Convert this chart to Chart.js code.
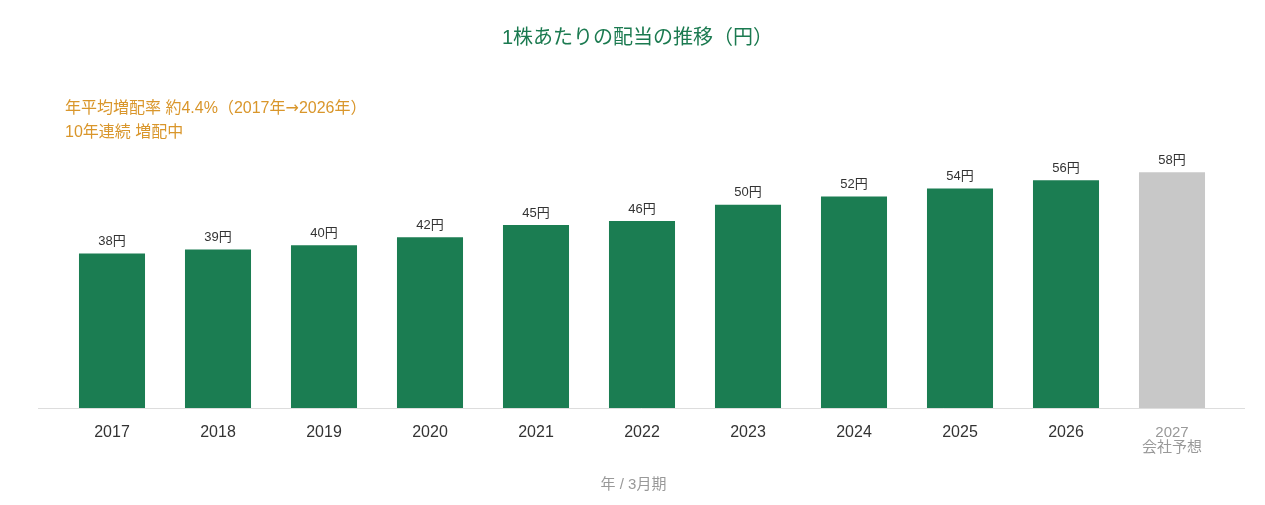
<!DOCTYPE html>
<html>
<head>
<meta charset="utf-8">
<script src="https://cdn.jsdelivr.net/npm/chart.js@4.4.1/dist/chart.umd.min.js"></script>
<style>
  html, body { margin: 0; padding: 0; background: #fff; }
  #wrap { width: 1265px; height: 505px; }
</style>
</head>
<body>
<div id="wrap"><canvas id="myChart"></canvas></div>
<script>
var years = ['2017', '2018', '2019', '2020', '2021', '2022', '2023', '2024', '2025', '2026', ['2027', '会社予想']]
var dividends = [38, 39, 40, 42, 45, 46, 50, 52, 54, 56, 58]
var forecastIndex = 10
var chartTitle = '1株あたりの配当の推移（円）'
var axisTitle = '年 / 3月期'
var notes = ['年平均増配率 約4.4%（2017年→2026年）', '10年連続 増配中']

var FONT = '"Liberation Sans", "Noto Sans CJK JP", sans-serif'
var ARROW = '"DejaVu Sans", sans-serif'
var green = '#1b7d52'
var grey = '#c8c8c8'

// draws text run by run so the arrow gets a wider glyph
function drawMixed(ctx, text, x, y, size) {
    var parts = text.split(/(→)/)
    parts.forEach(p => {
        if (!p) return
        ctx.font = size + 'px ' + (p === '→' ? ARROW : FONT)
        ctx.fillText(p, x, y)
        x += ctx.measureText(p).width
    })
}

const extras = {
    id: 'extras',
    afterDatasetsDraw(chart) {
        const ctx = chart.ctx
        const area = chart.chartArea
        const meta = chart.getDatasetMeta(0)
        ctx.save()
        ctx.textBaseline = 'middle'

        // title
        ctx.font = '20px ' + FONT
        ctx.fillStyle = '#1b7a50'
        ctx.textAlign = 'center'
        ctx.fillText(chartTitle, 637.5, 38)

        // value labels
        ctx.font = '13px ' + FONT
        ctx.fillStyle = '#333'
        meta.data.forEach((bar, i) => {
            ctx.fillText(dividends[i] + '円', bar.x, bar.y - 12)
        })

        // axis title
        ctx.font = '15px ' + FONT
        ctx.fillStyle = '#999'
        ctx.fillText(axisTitle, 633.5, 485)

        // notes
        ctx.fillStyle = '#d9962b'
        ctx.textAlign = 'left'
        notes.forEach((t, i) => {
            drawMixed(ctx, t, 65, 109 + i * 24, 16)
        })

        // baseline
        ctx.strokeStyle = '#dddddd'
        ctx.lineWidth = 1
        ctx.beginPath()
        ctx.moveTo(area.left - 21, area.bottom + 0.5)
        ctx.lineTo(area.right + 20, area.bottom + 0.5)
        ctx.stroke()
        ctx.restore()
    }
}

const ctx = document.getElementById('myChart')
const myChart = new Chart(ctx, {
    type: 'bar',
    data: {
        labels: years,
        datasets: [{
            data: dividends,
            backgroundColor: dividends.map((v, i) => i === forecastIndex ? grey : green),
            barPercentage: 0.623,
            categoryPercentage: 1
        }]
    },
    options: {
        responsive: true,
        maintainAspectRatio: false,
        animation: false,
        layout: {
            padding: { left: 59, right: 40, top: 164, bottom: 32 }
        },
        plugins: {
            legend: { display: false },
            tooltip: { enabled: false },
            title: { display: false }
        },
        scales: {
            x: {
                grid: { display: false, drawTicks: false },
                border: { display: false },
                ticks: {
                    padding: 17.5,
                    color: (c) => c.index === forecastIndex ? '#999' : '#333',
                    font: (c) => c.index === forecastIndex
                        ? { family: FONT, size: 15, lineHeight: '15px' }
                        : { family: FONT, size: 16, lineHeight: '15px' }
                }
            },
            y: {
                display: false,
                min: 0,
                max: 60
            }
        }
    },
    plugins: [extras]
})
</script>
</body>
</html>
